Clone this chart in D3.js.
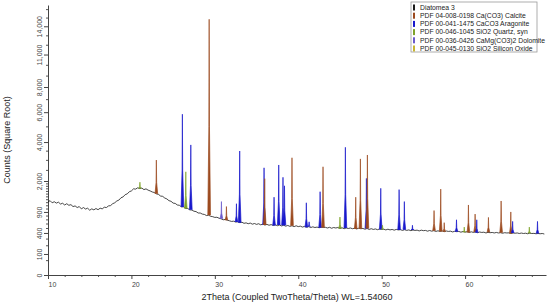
<!DOCTYPE html>
<html>
<head>
<meta charset="utf-8">
<script src="https://cdn.jsdelivr.net/npm/d3@7"></script>
<style>
  body { margin: 0; background: #fff; }
  svg { display: block; font-family: 'Liberation Sans', Arial, sans-serif; }
</style>
</head>
<body>
<div id="chart"></div>
<script>
// measured scan (Diatomea 3): start angle, step, counts
const scanStart = 10
const scanStep = 0.25
const scanCounts = [
  1210, 1250, 1180, 1215, 1170, 1200, 1140, 1165, 1110, 1150,
  1100, 1120, 1060, 1080, 1030, 1060, 990, 1030, 985, 1010,
  950, 990, 960, 1000, 965, 1010, 990, 1040, 1030, 1080,
  1090, 1150, 1180, 1240, 1270, 1350, 1380, 1460, 1490, 1570,
  1600, 1680, 1670, 1720, 1690, 1710, 1650, 1680, 1630, 1600,
  1560, 1540, 1490, 1470, 1410, 1400, 1340, 1310, 1250, 1230,
  1170, 1160, 1110, 1100, 1050, 1050, 1000, 1000, 960, 955,
  920, 910, 870, 870, 840, 830, 800, 810, 780, 770,
  750, 755, 730, 715, 690, 700, 680, 665, 650, 655,
  635, 640, 620, 630, 605, 615, 595, 610, 585, 600,
  580, 595, 570, 585, 565, 580, 560, 575, 555, 570,
  550, 565, 545, 560, 540, 555, 535, 550, 530, 548,
  530, 540, 520, 535, 515, 530, 510, 525, 510, 520,
  505, 520, 510, 515, 500, 515, 495, 510, 500, 510,
  490, 505, 485, 500, 490, 500, 485, 495, 480, 495,
  485, 490, 475, 490, 470, 485, 470, 480, 465, 480,
  470, 475, 460, 475, 460, 470, 455, 470, 460, 465,
  450, 465, 450, 460, 445, 458, 450, 455, 440, 455,
  445, 450, 435, 448, 435, 445, 430, 442, 430, 440,
  425, 438, 430, 435, 420, 432, 425, 430, 415, 428,
  415, 425, 410, 422, 410, 420, 405, 418, 410, 415,
  400, 412, 405, 410, 400, 410, 400, 405, 395, 405,
  400, 402, 390, 400, 395, 400, 390, 398, 390, 395,
  385, 395, 390, 392, 385, 390, 385, 390, 380
]

// identified peaks: angle, apex counts, phase
const peakAngles = [
  21.02, 22.99, 26.11, 26.52, 27.12, 29.32, 30.79, 31.39, 32.59, 32.98,
  35.90, 35.98, 37.10, 37.66, 38.17, 38.35, 39.25, 40.97, 41.30, 42.62,
  42.97, 45.00, 45.65, 46.89, 47.45, 48.17, 48.29, 49.89, 50.10, 52.09,
  52.72, 53.69, 56.28, 57.08, 57.50, 58.97, 59.90, 60.40, 61.20, 61.40,
  62.80, 64.32, 65.48, 65.70, 67.70, 68.68
]
const peakCounts = [
  1950, 2990, 5850, 2410, 3830, 14800, 1220, 1060, 1150, 3480,
  2600, 2100, 1370, 2740, 2160, 1800, 3110, 1180, 640, 1570,
  2650, 760, 3690, 1370, 3050, 2110, 3260, 1700, 560, 1650,
  1220, 560, 940, 1670, 620, 690, 520, 1110, 840, 690,
  750, 1240, 900, 650, 520, 650
]
const peakPhases = [
  'qtz', 'cal', 'ara', 'qtz', 'ara', 'cal', 'dol', 'cal', 'ara', 'ara',
  'ara', 'cal', 'ara', 'ara', 'ara', 'ara', 'cal', 'ara', 'ara', 'ara',
  'cal', 'qtz', 'ara', 'cal', 'cal', 'ara', 'cal', 'ara', 'qtz', 'ara',
  'ara', 'ara', 'cal', 'cal', 'cal', 'ara', 'qtz', 'cal', 'cal', 'ara',
  'cal', 'cal', 'cal', 'ara', 'qtz', 'ara'
]

// legend entries
const legendKeys = ['scan', 'cal', 'ara', 'qtz', 'dol', 'sio']
const legendLabels = [
  'Diatomea 3',
  'PDF 04-008-0198 Ca(CO3) Calcite',
  'PDF 00-041-1475 CaCO3 Aragonite',
  'PDF 00-046-1045 SiO2 Quartz, syn',
  'PDF 00-036-0426 CaMg(CO3)2 Dolomite',
  'PDF 00-045-0130 SiO2 Silicon Oxide'
]

const xTicks = [10, 20, 30, 40, 50, 60]
const yTicks = [0, 100, 400, 900, 2000, 4000, 6000, 8000, 11000, 14000]

const colors = {
  scan: '#1a1a1a',
  cal: '#9c4a1f',
  ara: '#1818cc',
  qtz: '#7fa32a',
  dol: '#6a5acd',
  sio: '#c8b430'
}

const W = 550
const H = 306

const svg = d3.select('#chart').append('svg')
  .attr('width', W)
  .attr('height', H)

const x = d3.scaleLinear().domain([10, 69.7]).range([48, 546])
const y = d3.scaleSqrt().domain([0, 16500]).range([275, 5])

const scan = scanCounts.map((c, i) => [scanStart + i * scanStep, c])
const bgAt = a => scanCounts[Math.round((a - scanStart) / scanStep)]

// minor ticks
const yMinor = d3.range(100, 2000, 100)
  .concat(d3.range(2000, 4000, 500))
  .concat(d3.range(4000, 16001, 1000))
  .concat([50])
  .filter(v => !yTicks.includes(v))
const xMinor = d3.range(12, 69, 2).filter(v => !xTicks.includes(v))

svg.append('g')
  .attr('transform', `translate(48,0)`)
  .call(d3.axisLeft(y).tickValues(yMinor).tickSize(2).tickSizeOuter(0).tickFormat(''))
  .call(g => g.select('.domain').remove())
  .selectAll('line').attr('stroke', '#555')

const yAxis = svg.append('g')
  .attr('transform', `translate(48,0)`)
  .call(d3.axisLeft(y).tickValues(yTicks).tickSize(4).tickSizeOuter(0).tickFormat(d3.format(',')))
yAxis.select('.domain').attr('stroke', '#444')
yAxis.selectAll('line').attr('stroke', '#444')
yAxis.selectAll('text')
  .attr('transform', 'rotate(-90)')
  .attr('x', 0)
  .attr('y', -6)
  .attr('dy', 0)
  .attr('text-anchor', 'middle')
  .attr('font-size', 7)
  .attr('fill', '#444')

svg.append('g')
  .attr('transform', `translate(0,275)`)
  .call(d3.axisBottom(x).tickValues(xMinor).tickSize(2).tickSizeOuter(0).tickFormat(''))
  .call(g => g.select('.domain').remove())
  .selectAll('line').attr('stroke', '#555')

const xAxis = svg.append('g')
  .attr('transform', `translate(0,275)`)
  .call(d3.axisBottom(x).tickValues(xTicks).tickSize(4).tickSizeOuter(0))
xAxis.select('.domain').attr('stroke', '#444')
xAxis.selectAll('line').attr('stroke', '#444')
xAxis.selectAll('text')
  .attr('text-anchor', 'start')
  .attr('x', 0)
  .attr('font-size', 7)
  .attr('fill', '#444')

// axis titles
svg.append('text')
  .attr('transform', 'translate(10,140) rotate(-90)')
  .attr('text-anchor', 'middle')
  .attr('font-size', 9)
  .attr('fill', '#222')
  .text('Counts (Square Root)')

svg.append('text')
  .attr('x', 297)
  .attr('y', 300)
  .attr('text-anchor', 'middle')
  .attr('font-size', 9)
  .attr('fill', '#222')
  .text('2Theta (Coupled TwoTheta/Theta) WL=1.54060')

// scan line
svg.append('path')
  .datum(scan)
  .attr('fill', 'none')
  .attr('stroke', colors.scan)
  .attr('stroke-width', 0.8)
  .attr('d', d3.line().x(d => x(d[0])).y(d => y(d[1])))

// peaks coloured by phase
const peakShape = (a, h) => {
  const f = bgAt(a)
  return [
    [a - 0.16, f],
    [a - 0.035, f + (h - f) * 0.3],
    [a, h],
    [a + 0.035, f + (h - f) * 0.3],
    [a + 0.16, f]
  ]
}
const peakLine = d3.line().x(d => x(d[0])).y(d => y(d[1]))

svg.append('g')
  .selectAll('path')
  .data(peakAngles.map((a, i) => ({ a, h: peakCounts[i], p: peakPhases[i] })))
  .join('path')
  .attr('d', d => peakLine(peakShape(d.a, d.h)))
  .attr('fill', d => colors[d.p])
  .attr('stroke', d => colors[d.p])
  .attr('stroke-width', 0.7)

// legend
const legend = svg.append('g').attr('transform', 'translate(411,2)')
legend.append('rect')
  .attr('width', 126)
  .attr('height', 50)
  .attr('fill', '#fff')
  .attr('stroke', '#999')
  .attr('stroke-width', 0.8)

const rows = legend.selectAll('g.row')
  .data(legendKeys)
  .join('g')
  .attr('class', 'row')
  .attr('transform', (d, i) => `translate(0,${5.5 + i * 8.2})`)
rows.append('rect')
  .attr('x', 2)
  .attr('y', -3)
  .attr('width', 2)
  .attr('height', 6)
  .attr('fill', d => colors[d])
rows.append('text')
  .attr('x', 9)
  .attr('dy', '0.35em')
  .attr('font-size', 6.8)
  .attr('fill', '#222')
  .text((d, i) => legendLabels[i])
</script>
</body>
</html>
